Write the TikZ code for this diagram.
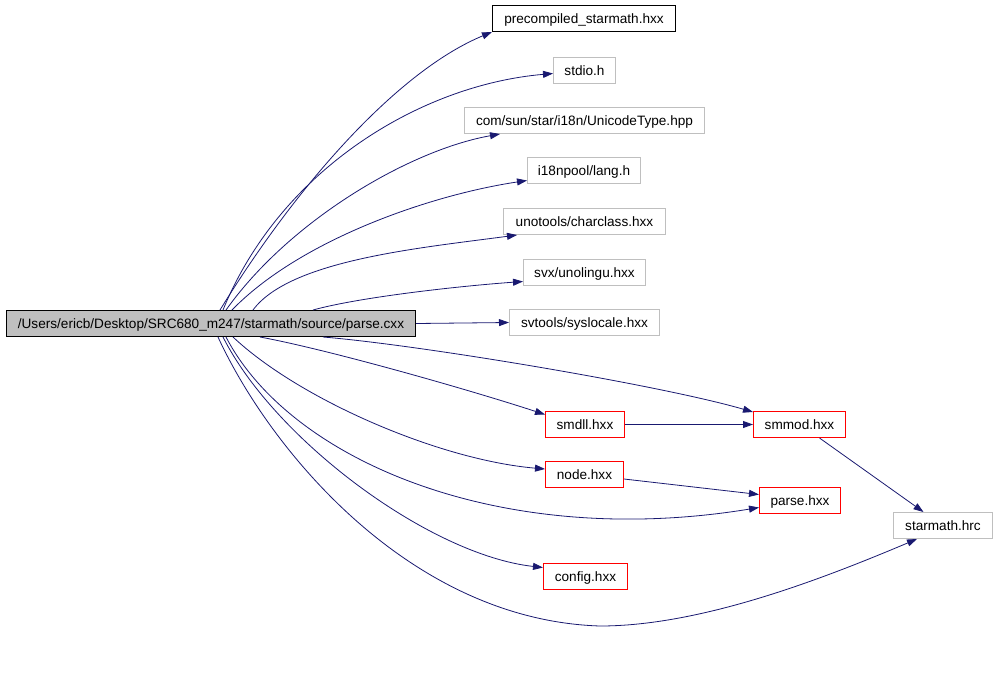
\documentclass[tikz,border=0pt]{standalone}
\usepackage{fontspec}
\setmainfont{Liberation Sans}
\usetikzlibrary{arrows.meta}
\definecolor{edgec}{HTML}{191970}
\definecolor{grayb}{HTML}{BFBFBF}
\definecolor{redb}{HTML}{FF0000}
\tikzset{
  box/.style={draw, line width=1pt, minimum height=26pt, inner sep=0pt, font=\fontsize{13.6}{15}\selectfont, text height=10pt, text depth=0.5pt, anchor=center},
  ownbox/.style={box, draw=black},
  sysbox/.style={box, color=grayb, text=black},
  redbox/.style={box, color=redb, text=black},
  mainbox/.style={box, draw=black, fill=grayb},
  dep/.style={draw=edgec, line width=0.8pt, -{Triangle[length=10pt,width=7pt]}},
}
\begin{document}
\begin{tikzpicture}[x=1pt,y=-1pt]
\useasboundingbox (0,0) rectangle (997,673);
\node[mainbox, minimum width=409pt] (main) at (211,323.5) {/Users/ericb/Desktop/SRC680\_m247/starmath/source/parse.cxx};
\node[ownbox, minimum width=183pt] (pre) at (584,18.5) {precompiled\_starmath.hxx};
\node[sysbox, minimum width=62pt] (stdio) at (584.5,70.5) {stdio.h};
\node[sysbox, minimum width=240pt] (uni) at (584.5,120.5) {com/sun/star/i18n/UnicodeType.hpp};
\node[sysbox, minimum width=113pt] (lang) at (584,170.5) {i18npool/lang.h};
\node[sysbox, minimum width=162pt] (cc) at (584.5,221.5) {unotools/charclass.hxx};
\node[sysbox, minimum width=122pt] (uno) at (584.5,272.5) {svx/unolingu.hxx};
\node[sysbox, minimum width=150pt] (sys) at (584.5,322.5) {svtools/syslocale.hxx};
\node[redbox, minimum width=79pt] (smdll) at (585,424.5) {smdll.hxx};
\node[redbox, minimum width=92pt] (smmod) at (799.5,424.5) {smmod.hxx};
\node[redbox, minimum width=78pt] (nodeh) at (584.5,474.5) {node.hxx};
\node[redbox, minimum width=81pt] (parse) at (800,500.5) {parse.hxx};
\node[sysbox, minimum width=99pt] (hrc) at (943,525.5) {starmath.hrc};
\node[redbox, minimum width=84pt] (config) at (585.5,576.5) {config.hxx};

\draw[dep] ([xshift=9pt]main.north) .. controls (300,180) and (400,70) .. (pre.south west);
\draw[dep] ([xshift=12pt]main.north) .. controls (280,170) and (420,85) .. ([yshift=-3pt]stdio.west);
\draw[dep] ([xshift=15pt]main.north) .. controls (290,220) and (410,150) .. ([xshift=36pt]uni.south west);
\draw[dep] ([xshift=21pt]main.north) .. controls (300,240) and (430,195) .. ([yshift=-10pt]lang.west);
\draw[dep] ([xshift=42pt]main.north) .. controls (290,260) and (420,248) .. ([xshift=14pt]cc.south west);
\draw[dep] ([xshift=102pt]main.north) .. controls (360,297) and (460,286) .. ([yshift=-9pt]uno.west);
\draw[dep] (main.east) -- (sys.west);
\draw[dep] ([xshift=112pt]main.south) .. controls (420,345) and (660,385) .. ([yshift=-1pt]smmod.north west);
\draw[dep] ([xshift=49pt]main.south) .. controls (330,350) and (470,390) .. ([yshift=10pt]smdll.west);
\draw[dep] ([xshift=22pt]main.south) .. controls (300,400) and (440,460) .. ([yshift=5.5pt]nodeh.west);
\draw[dep] ([xshift=15pt]main.south) .. controls (290,460) and (500,550) .. ([yshift=-7pt]parse.west);
\draw[dep] ([xshift=12pt]main.south) .. controls (275,440) and (430,555) .. ([yshift=9pt]config.west);
\draw[dep] ([xshift=7pt]main.south) .. controls (270,450) and (410,620) .. (600,626) .. controls (700,626) and (820,580) .. ([xshift=24pt]hrc.south west);
\draw[dep] (smdll.east) -- (smmod.west);
\draw[dep] ([yshift=-4.5pt]nodeh.east) -- ([yshift=6pt]parse.west);
\draw[dep] ([xshift=20pt]smmod.south) -- ([xshift=-19.5pt]hrc.north);
\end{tikzpicture}
\end{document}
